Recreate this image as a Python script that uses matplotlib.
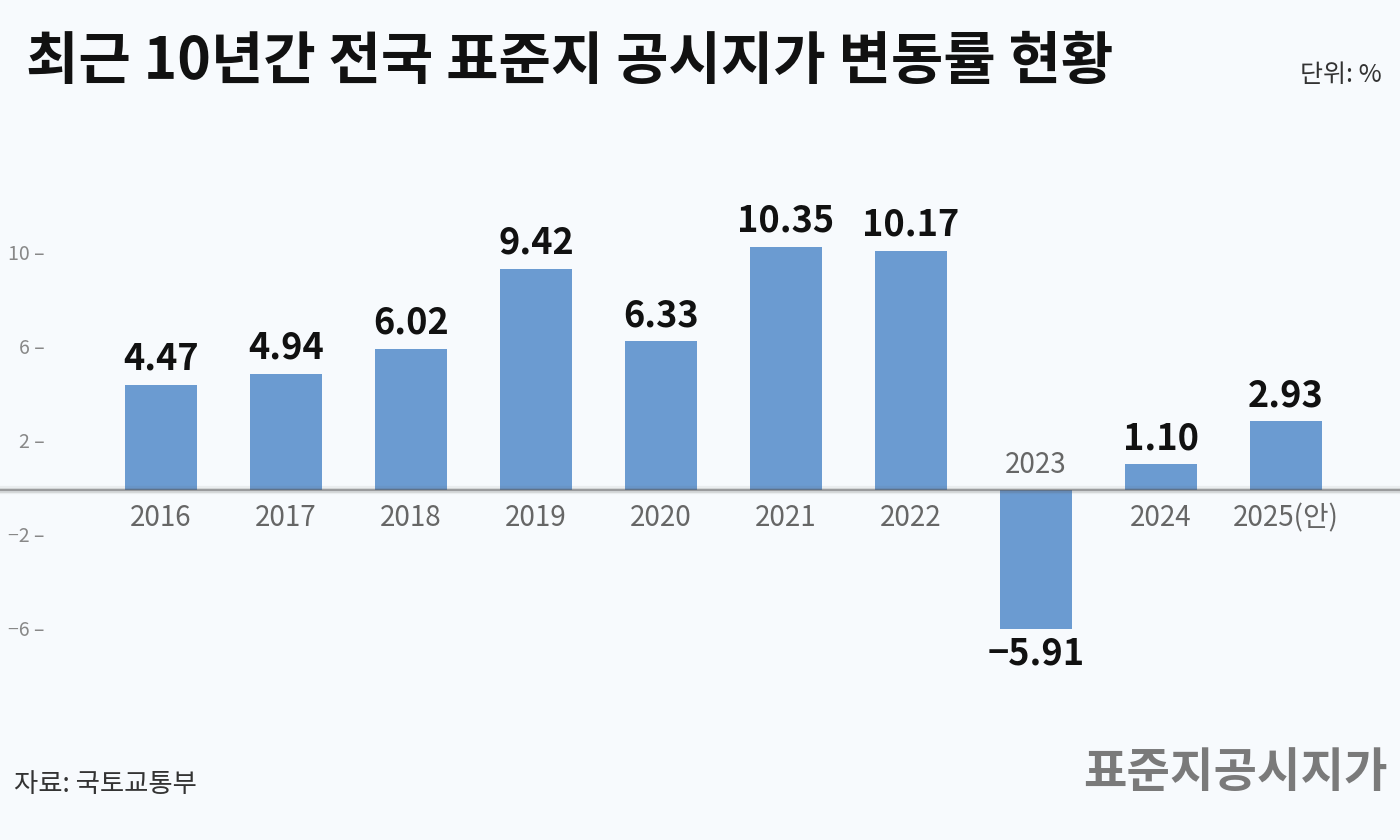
import matplotlib
matplotlib.use("Agg")
import matplotlib.pyplot as plt

plt.rcParams['font.family'] = ['Noto Sans CJK KR', 'DejaVu Sans']

years = ['2016','2017','2018','2019','2020','2021','2022','2023','2024','2025(안)']
values = [4.47, 4.94, 6.02, 9.42, 6.33, 10.35, 10.17, -5.91, 1.10, 2.93]
yticks = [10, 6, 2, -2, -6]

bg = '#f7fafd'
fig = plt.figure(figsize=(14, 8.4), dpi=100, facecolor=bg)
ax = fig.add_axes([0, 0, 1, 1], facecolor=bg)
ax.set_xlim(-161/125, (1400-161)/125)
ax.set_ylim(-(840-490)/23.5, 490/23.5)
ax.axis('off')

x = list(range(len(years)))
ax.bar(x, values, width=0.57, color='#6b9bd1', zorder=2)
for lw, a in [(6, 0.08), (3.5, 0.15), (1.5, 0.45)]:
    ax.axhline(0, color='#555555', lw=lw, alpha=a, zorder=3)

for xi, v, yr in zip(x, values, years):
    lab = f'{v:.2f}'.replace('-', '−')
    if v >= 0:
        ax.text(xi, v + 0.3, lab, ha='center', va='bottom', fontsize=26, color='#111111', weight='bold', zorder=4)
        ax.text(xi, -1.2, yr, ha='center', va='center', fontsize=20, color='#666666', zorder=4)
    else:
        ax.text(xi, v - 0.3, lab, ha='center', va='top', fontsize=26, color='#111111', weight='bold', zorder=4)
        ax.text(xi, 1.05, yr, ha='center', va='center', fontsize=20, color='#666666', zorder=4)

for t in yticks:
    lab = f'{t}'.replace('-', '−')
    ax.text(-0.93, t, lab + ' –', ha='right', va='center', fontsize=14, color='#888888')

fig.text(26/1400, 1 - 62/840, '최근 10년간 전국 표준지 공시지가 변동률 현황', fontsize=41, weight='bold', color='#111111', va='center')
fig.text(1382/1400, 1 - 75/840, '단위: %', fontsize=18, color='#333333', ha='right', va='center')
fig.text(14/1400, 1 - 785/840, '자료: 국토교통부', fontsize=19, color='#333333', va='center')
fig.text(1388/1400, 1 - 773/840, '표준지공시지가', fontsize=34, weight='bold', color='#7a7a7a', ha='right', va='center')

fig.savefig('out.png', dpi=100, facecolor=bg)
